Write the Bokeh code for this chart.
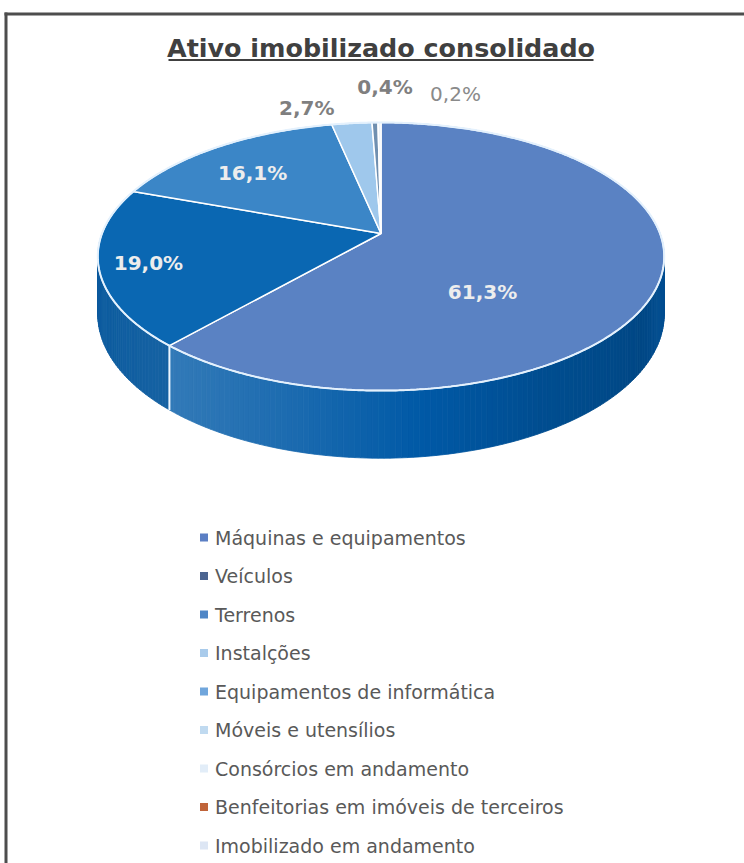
import numpy as np
from bokeh.plotting import figure
from bokeh.models import Range1d
from bokeh.embed import file_html
from bokeh.resources import INLINE
from bokeh.core.properties import value

# ---------------- data ----------------
TITLE = "Ativo imobilizado consolidado"
CATEGORIES = [
    "Máquinas e equipamentos",
    "Veículos",
    "Terrenos",
    "Instalções",
    "Equipamentos de informática",
    "Móveis e utensílios",
    "Consórcios em andamento",
    "Benfeitorias em imóveis de terceiros",
    "Imobilizado em andamento",
]
VALUES = [61.3, 19.0, 16.1, 2.7, 0.4, 0.2, 0.0, 0.0, 0.0]

# ---------------- styles ----------------
TOP_COLORS = ["#5a82c3", "#0a67b2", "#3b86c7", "#9fc8ec", "#6f8fb0",
              "#eef4fa", "#e2edf8", "#c0643a", "#dde6f4"]
SIDE_COLORS = ["#0059a6", "#0a5a9e", "#1f6fb3", "#7eaedb", "#5a7a9c",
               "#d5e3f1", "#cfdff0", "#a0502c", "#c9d6ea"]
SIDE_STRENGTH = [1.0, 0.25, 0.5, 0.5, 0.5, 0.5, 0.5, 0.5, 0.5]
LEGEND_COLORS = ["#5b7fc4", "#4b6490", "#4f86c6", "#a9cbeb", "#70a6dc",
                 "#c0daf0", "#e2edf8", "#c0643a", "#dde6f4"]
LABEL_COLORS = ["#ededed", "#ededed", "#ededed", "#7f7f7f", "#7f7f7f", "#8a8a8a"]
LABEL_WEIGHTS = ["bold", "bold", "bold", "bold", "bold", "normal"]
LABEL_RADIUS = [0.38, 0.83, 0.772, 1.0, 1.0, 1.0]
LABEL_NUDGE = [(0, 41), (0, 2), (0, 8), (-45, -15), (10, -36), (76, -28)]

W, H = 744, 863
CX, HY, RX, RY, K, DEPTH = 380.5, 233.0, 279.0, 130.1, 0.1718, 56.0
FONT = "DejaVu Sans"

p = figure(width=W, height=H, x_range=Range1d(0, W), y_range=Range1d(H, 0),
           output_backend="svg", toolbar_location=None, min_border=0,
           x_axis_location=None, y_axis_location=None)
p.grid.visible = False
p.outline_line_color = None
p.background_fill_color = "white"
p.border_fill_color = "white"


def proj(theta, f=1.0):
    t = np.radians(theta)
    u, v = f * np.sin(t), f * np.cos(t)
    s = 1.0 / (1.0 + K * v)
    return CX + RX * u * s, HY - RY * v * s


def drop(theta):
    return DEPTH / (1.0 + K * np.cos(np.radians(theta)))


def hex2rgb(h):
    return np.array([int(h[i:i + 2], 16) for i in (1, 3, 5)], dtype=float)


def rgb2hex(c):
    c = np.clip(np.round(c), 0, 255).astype(int)
    return "#%02x%02x%02x" % tuple(c)


SHADE_T = [0.0, 0.125, 0.36, 0.57, 0.78, 0.96, 1.0]
SHADE_M = [0.05, 0.2, 0.1, 0.0, -0.13, -0.2, -0.12]


def side_color(i, x):
    xmin, xmax = CX - RX * 1.015, CX + RX * 1.015
    t = (x - xmin) / (xmax - xmin)
    m = np.interp(t, SHADE_T, SHADE_M) * SIDE_STRENGTH[i]
    base = hex2rgb(SIDE_COLORS[i])
    if m >= 0:
        c = base + (255 - base) * m
    else:
        c = base * (1 + m)
    return rgb2hex(c)


total = float(sum(VALUES))
bounds = np.concatenate([[0.0], np.cumsum(VALUES) / total * 360.0])

# ---- side strips (back to front) ----
strips = []
for i, val in enumerate(VALUES):
    if val <= 0:
        continue
    a0, a1 = bounds[i], bounds[i + 1]
    n = max(1, int(np.ceil((a1 - a0) / 1.0)))
    angs = np.linspace(a0, a1, n + 1)
    for a, b in zip(angs[:-1], angs[1:]):
        xa, ya = proj(a)
        xb, yb = proj(b)
        mid = 0.5 * (a + b)
        xs = [xa, xb, xb, xa]
        ys = [ya, yb, yb + drop(b), ya + drop(a)]
        col = side_color(i, 0.5 * (xa + xb))
        strips.append((np.cos(np.radians(mid)), xs, ys, col))
strips.sort(key=lambda s: -s[0])
p.patches([s[1] for s in strips], [s[2] for s in strips],
          fill_color=[s[3] for s in strips], line_color=[s[3] for s in strips],
          line_width=0.8)

# vertical white edges on visible slice boundaries
for b in bounds[1:-1]:
    if np.cos(np.radians(b)) < -K:
        x0, y0 = proj(b)
        p.segment(x0=[x0], y0=[y0], x1=[x0], y1=[y0 + drop(b)],
                  line_color="#eef6ff", line_width=2)

# ---- top faces ----
txs, tys, tcols = [], [], []
for i, val in enumerate(VALUES):
    if val <= 0:
        continue
    a0, a1 = bounds[i], bounds[i + 1]
    n = max(2, int(np.ceil((a1 - a0) / 0.5)))
    angs = np.linspace(a0, a1, n + 1)
    px, py = proj(angs)
    hx, hy = proj(0.0, 0.0)
    txs.append([hx] + list(px))
    tys.append([hy] + list(py))
    tcols.append(TOP_COLORS[i])
p.patches(txs, tys, fill_color=tcols, line_color="white", line_width=1.5)

# rim highlight
ra = np.linspace(0, 360, 721)
rx_, ry_ = proj(ra)
p.line(rx_, ry_, line_color="#e4f1fd", line_width=2)

# ---- data labels ----
li = 0
for i, val in enumerate(VALUES):
    if val <= 0:
        continue
    mid = 0.5 * (bounds[i] + bounds[i + 1])
    lx, ly = proj(mid, LABEL_RADIUS[li])
    lx += LABEL_NUDGE[li][0]
    ly += LABEL_NUDGE[li][1]
    txt = ("%.1f" % val).replace(".", ",") + "%"
    p.text(x=[lx], y=[ly], text=[txt], text_font=value(FONT),
           text_font_size="20px", text_font_style=LABEL_WEIGHTS[li],
           text_color=LABEL_COLORS[li], text_align="center", text_baseline="middle")
    li += 1

# ---- title ----
p.text(x=[380.5], y=[47.3], text=[TITLE], text_font=value(FONT), text_font_size="25.4px",
       text_font_style="bold", text_color="#404040", text_align="center",
       text_baseline="middle")
p.segment(x0=[168], y0=[59.5], x1=[593], y1=[59.5], line_color="#404040", line_width=2)

# ---- frame (left & top edges) ----
p.segment(x0=[5.5, 4], y0=[12, 13.5], x1=[5.5, W], y1=[H, 13.5],
          line_color="#4d4d4d", line_width=3)

# ---- legend ----
LEG_Y0, LEG_DY = 537.0, 38.5
ly_ = [LEG_Y0 + j * LEG_DY for j in range(len(CATEGORIES))]
p.scatter(x=[203.5] * len(CATEGORIES), y=ly_, marker="square", size=8,
          fill_color=LEGEND_COLORS, line_color=None)
p.text(x=[214.5] * len(CATEGORIES), y=ly_, text=CATEGORIES, text_font=value(FONT),
       text_font_size="19px", text_color="#595959", text_align="left",
       text_baseline="middle")

open("out.html", "w").write(file_html(p, INLINE))
